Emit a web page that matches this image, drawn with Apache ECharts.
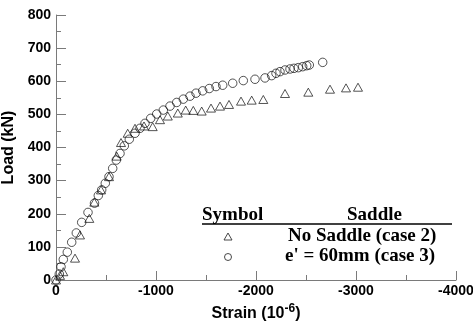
<!DOCTYPE html>
<html>
<head>
<meta charset="utf-8">
<script src="https://cdn.jsdelivr.net/npm/echarts@6/dist/echarts.min.js"></script>
<style>html,body{margin:0;padding:0;background:#fff}#c{width:473px;height:324px}</style>
</head>
<body>
<div id="c"></div>
<script>
// Series: No Saddle (case 2) — triangles
const noSaddleStrain = [0,-40,-73,-190,-240,-333,-383,-450,-530,-607,-650,-717,-790,-880,-967,-1040,-1118,-1218,-1297,-1373,-1457,-1550,-1640,-1730,-1850,-1957,-2073,-2290,-2523,-2740,-2900,-3020];
const noSaddleLoad   = [0,14,25,66,136,186,235,272,312,374,415,443,458,465,463,484,495,504,513,512,510,519,525,530,540,543,545,563,567,576,580,582];
// Series: e' = 60mm (case 3) — circles
const e60Strain = [0,-33,-50,-73,-113,-157,-203,-257,-320,-385,-423,-457,-493,-530,-567,-603,-640,-683,-733,-790,-840,-890,-947,-1007,-1073,-1140,-1207,-1273,-1340,-1400,-1467,-1533,-1600,-1667,-1767,-1873,-1990,-2090,-2157,-2200,-2240,-2290,-2340,-2380,-2423,-2467,-2507,-2533,-2667];
const e60Load   = [0,18,40,62,84,114,142,174,204,232,255,272,292,312,337,362,382,405,425,443,458,473,488,501,513,525,536,546,555,564,571,578,584,588,594,602,606,610,617,624,629,634,637,639,641,644,647,649,657];
// Axes
const xTicks = [0,-1000,-2000,-3000,-4000];
const yTicks = [0,100,200,300,400,500,600,700,800];
const seriesNames = ['No Saddle (case 2)', "e' = 60mm (case 3)"];

const pair = (xs, ys) => xs.map((x, i) => [x, ys[i]]);
const axisColor = '#7a7a7a';
const chart = echarts.init(document.getElementById('c'), null, {renderer: 'canvas'});
const legendFont = 'bold 19px "Liberation Serif", "Times New Roman", serif';
const sansFont = 'Liberation Sans, Arial';
chart.setOption({
  animation: false,
  backgroundColor: '#fff',
  grid: {left: 56, right: 17, top: 15, bottom: 44, containLabel: false, outerBoundsMode: 'none'},
  xAxis: {
    type: 'value', inverse: true, min: Math.min(...xTicks), max: Math.max(...xTicks), interval: 1000,
    name: 'Strain (10{sup|-6})',
    nameLocation: 'middle', nameGap: 21,
    nameTextStyle: {fontFamily: sansFont, fontWeight: 'bold', fontSize: 16, color: '#000',
      rich: {sup: {fontFamily: sansFont, fontWeight: 'bold', fontSize: 12, verticalAlign: 'bottom', padding: [0,0,10,0], color: '#000'}}},
    axisLine: {show: true, onZero: false, lineStyle: {color: axisColor, width: 1}},
    axisTick: {show: true, inside: true, length: 9, lineStyle: {color: axisColor}},
    minorTick: {show: true, splitNumber: 2, length: 5, lineStyle: {color: axisColor}},
    splitLine: {show: false},
    axisLabel: {fontFamily: sansFont, fontWeight: 'bold', fontSize: 14, color: '#000', margin: 4,
      formatter: v => String(v)}
  },
  yAxis: {
    type: 'value', min: 0, max: 800, interval: 100,
    name: 'Load (kN)', nameLocation: 'middle', nameGap: 36,
    nameTextStyle: {fontFamily: sansFont, fontWeight: 'bold', fontSize: 16, color: '#000'},
    axisLine: {show: true, onZero: false, lineStyle: {color: axisColor, width: 1}},
    axisTick: {show: true, inside: true, length: 10, lineStyle: {color: axisColor}},
    minorTick: {show: true, splitNumber: 2, length: 5, lineStyle: {color: axisColor}},
    splitLine: {show: false},
    axisLabel: {fontFamily: sansFont, fontWeight: 'bold', fontSize: 14, color: '#000', margin: 5}
  },
  series: [
    {name: seriesNames[0], type: 'scatter', symbol: 'triangle', symbolSize: [9, 8],
     data: pair(noSaddleStrain, noSaddleLoad),
     itemStyle: {color: 'rgba(0,0,0,0)', borderColor: '#111', borderWidth: 0.9}},
    {name: seriesNames[1], type: 'scatter', symbol: 'circle', symbolSize: 8.5,
     data: pair(e60Strain, e60Load),
     itemStyle: {color: 'rgba(0,0,0,0)', borderColor: '#111', borderWidth: 0.9}}
  ],
  graphic: [
    {type: 'text', left: 202, top: 206, style: {text: 'Symbol', font: legendFont, fill: '#000'}},
    {type: 'text', left: 347, top: 206, style: {text: 'Saddle', font: legendFont, fill: '#000'}},
    {type: 'line', shape: {x1: 202, y1: 224, x2: 452, y2: 224}, style: {stroke: '#000', lineWidth: 1.5}},
    {type: 'polygon', shape: {points: [[228, 233], [232, 240], [224, 240]]}, style: {fill: 'none', stroke: '#333', lineWidth: 0.9}},
    {type: 'circle', shape: {cx: 228, cy: 257, r: 3.5}, style: {fill: 'none', stroke: '#333', lineWidth: 0.9}},
    {type: 'text', left: 288, top: 227, style: {text: seriesNames[0], font: legendFont, fill: '#000'}},
    {type: 'text', left: 285, top: 247, style: {text: seriesNames[1], font: legendFont, fill: '#000'}}
  ]
});
</script>
</body>
</html>
